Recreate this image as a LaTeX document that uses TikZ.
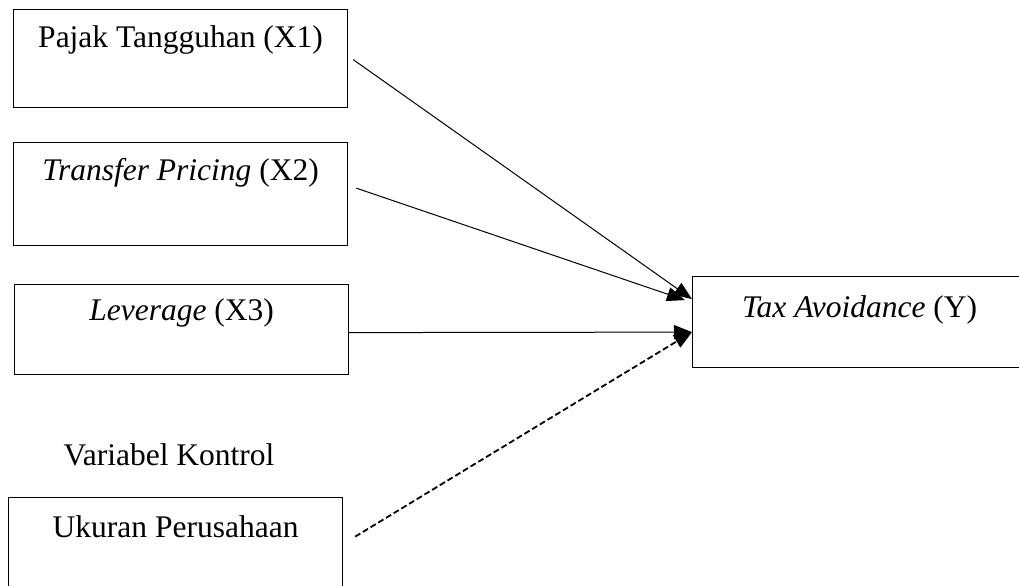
\documentclass[tikz,border=0pt]{standalone}
\usepackage{fontspec}
\setmainfont{Liberation Serif}
\usetikzlibrary{arrows.meta}

\begin{document}
\begin{tikzpicture}[
    x=0.5pt, y=-0.5pt,
    font=\fontsize{15.75}{19}\selectfont,
    varbox/.style = {draw, line width=0.6pt, minimum width=167pt, inner sep=0pt, anchor=north west},
    arr/.style = {line width=0.5pt, -{Triangle[length=9pt,width=7pt]}}
     ]
  \useasboundingbox (0,0) rectangle (1019,585);
  \node[varbox, text height=19pt, text depth=30pt] (x1) at (13,9) {Pajak Tangguhan (X1)};
  \node[varbox, text height=19pt, text depth=32.5pt] (x2) at (13,142) {\textit{Transfer Pricing} (X2)};
  \node[varbox, text height=18pt, text depth=27pt] (x3) at (14,284) {\textit{Leverage} (X3)};
  \node[anchor=base] (kontrol) at (169,465) {Variabel Kontrol};
  \node[varbox, text height=20pt, text depth=30pt] (x4) at (8,497) {Ukuran Perusahaan};
  \node[varbox, text height=20.5pt, text depth=25pt] (y) at (692,276) {\textit{Tax Avoidance} (Y)};
  % panah ke Y
  \draw[arr] ([xshift=2.5pt,yshift=-0.5pt]x1.east) -- ([yshift=11.5pt]y.west);
  \draw[arr] ([xshift=4pt,yshift=3pt]x2.east) -- ([xshift=-3.5pt,yshift=11pt]y.west);
  \draw[arr] ([yshift=-1.5pt]x3.east) -- ([yshift=-5pt]y.west);
  \draw[arr, line width=0.9pt, dash pattern=on 3pt off 1.5pt] ([xshift=6pt,yshift=5.5pt]x4.east) -- ([yshift=-5pt]y.west);
\end{tikzpicture}
\end{document}
